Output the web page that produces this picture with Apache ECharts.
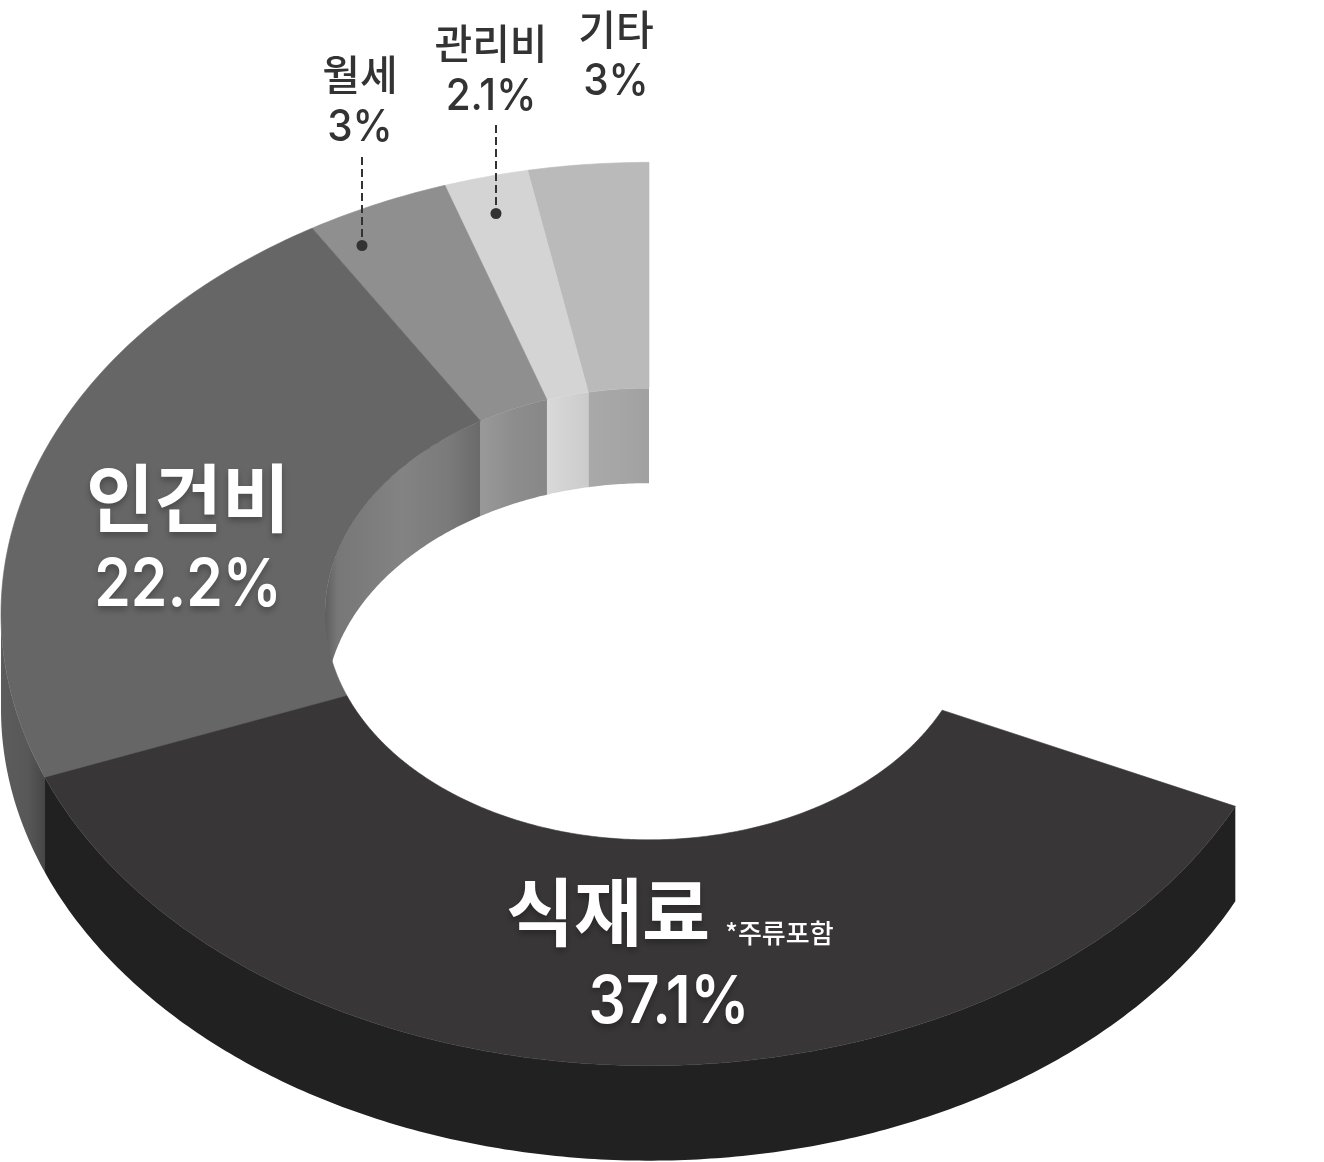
<!DOCTYPE html>
<html lang="ko">
<head>
<meta charset="utf-8">
<title>비용 구성</title>
<style>html,body{margin:0;padding:0;background:#fff}#chart{width:1324px;height:1162px}</style>
<script src="https://cdn.jsdelivr.net/npm/echarts@6/dist/echarts.min.js"></script>
</head>
<body>
<div id="chart"></div>
<script>
// Data, in drawing order: counter-clockwise from twelve o'clock.
var categories = ['기타', '관리비', '월세', '인건비', '식재료'];
var sliceValues = [3, 2.1, 3.6, 22.2, 37.1];
var valueLabels = ['3%', '2.1%', '3%', '22.2%', '37.1%'];
var blankValue = 32;
var footnote = '*주류포함';

// Styles (gradient stops run left to right on screen)
var topColors = ['#bababa', '#d4d4d4', '#8f8f8f', '#666666', '#383637'];
var innerWallStops = [
  [[0, '#a9a9a9'], [0.6, '#a5a5a5'], [1, '#a0a0a0']],
  [[0, '#d9d9d9'], [1, '#cbcbcb']],
  [[0, '#999999'], [0.5, '#8d8d8d'], [1, '#878787']],
  [[0, '#5e5e5e'], [0.08, '#777777'], [0.5, '#838383'], [0.8, '#7a7a7a'], [1, '#6a6a6a']],
  null
];
var outerWallStops = [null, null, null,
  [[0, '#5c5c5c'], [0.6, '#585858'], [1, '#464646']],
  [[0, '#212121'], [1, '#212121']]
];

// Layout of the projected ring
var CX = 649, CY = 614, RO = 648, RI = 324, SQUASH = 0.697, DEPTH = 95;
var total = sliceValues.reduce(function (a, b) { return a + b; }, blankValue);
var edges = [0];
sliceValues.forEach(function (v, i) { edges.push(edges[i] + v); });

function thetaOf(v) { return echarts.number.linearMap(v, [0, total], [0, Math.PI * 2]); }
function pt(theta, r, z) {
  return [CX - r * Math.sin(theta), CY - SQUASH * r * Math.cos(theta) + z];
}
function arc(a, b, r, z) {
  var pts = [], n = Math.max(6, Math.ceil((b - a) / 0.01));
  for (var i = 0; i <= n; i++) pts.push(pt(a + (b - a) * i / n, r, z));
  return pts;
}
function grad(stops) {
  return new echarts.graphic.LinearGradient(0, 0, 1, 0, stops.map(function (s) {
    return { offset: s[0], color: s[1] };
  }));
}
function rows() { return categories.map(function (c, i) { return [i, sliceValues[i]]; }); }

function renderTop(params, api) {
  var i = api.value(0), a = thetaOf(edges[i]), b = thetaOf(edges[i + 1]);
  var pts = arc(a, b, RO, 0).concat(arc(a, b, RI, 0).reverse());
  return { type: 'polygon', shape: { points: pts },
    style: { fill: topColors[i], stroke: topColors[i], lineWidth: 0.6 } };
}
function renderInnerWall(params, api) {
  var i = api.value(0);
  if (!innerWallStops[i]) return null;
  var a = thetaOf(edges[i]), b = Math.min(thetaOf(edges[i + 1]), Math.PI / 2);
  var pts = arc(a, b, RI, 0).concat(arc(a, b, RI, DEPTH).reverse());
  return { type: 'polygon', shape: { points: pts }, style: { fill: grad(innerWallStops[i]) } };
}
function renderOuterWall(params, api) {
  var i = api.value(0);
  if (!outerWallStops[i]) return null;
  var a = Math.max(thetaOf(edges[i]), Math.PI / 2), b = thetaOf(edges[i + 1]);
  var pts = arc(a, b, RO, 0).concat(arc(a, b, RO, DEPTH).reverse());
  return { type: 'polygon', shape: { points: pts }, style: { fill: grad(outerWallStops[i]) } };
}

var FONT = 'Inter, "Noto Sans CJK KR", sans-serif';
var KFONT = '"Noto Sans CJK KR", sans-serif';
function txt(s, x, y, size, weight, color, shadow, family, sx) {
  var st = { text: s, x: 0, y: 0, align: 'center', verticalAlign: 'middle',
    fontFamily: family, fontSize: size, fontWeight: weight, fill: color };
  if (shadow) {
    st.textShadowColor = 'rgba(0,0,0,0.28)'; st.textShadowBlur = 6; st.textShadowOffsetY = 4; st.textShadowOffsetX = 0;
  }
  return { type: 'text', x: x, y: y, scaleX: sx || 1, scaleY: 1, style: st };
}
// Placement of each label: [name x, name y, value x, value y]
var labelPos = [
  [616, 29, 616, 82],
  [491, 43, 491, 97],
  [360, 74, 360, 128],
  [188, 498, 188, 586],
  [608, 912, 669, 1003]
];
var leaders = { 1: [496, 125, 213.5], 2: [362, 157, 245.5] };

function renderLabels(params, api) {
  var i = api.value(0), p = labelPos[i], big = i >= 3, kids = [];
  if (big) {
    kids.push(txt(categories[i], p[0], p[1], 74, 700, '#ffffff', true, KFONT));
    kids.push(txt(valueLabels[i], p[2], p[3], 66, 600, '#ffffff', true, FONT, 0.89));
  } else {
    kids.push(txt(categories[i], p[0], p[1], 41, 500, '#333333', false, KFONT));
    kids.push(txt(valueLabels[i], p[2], p[3], 44, 500, '#333333', false, FONT, 0.92));
  }
  if (i === 4) kids.push(txt(footnote, 779.5, 933, 26, 500, '#ffffff', false, KFONT));
  if (leaders[i]) {
    var l = leaders[i];
    kids.push({ type: 'line', shape: { x1: l[0], y1: l[1], x2: l[0], y2: l[2] },
      style: { stroke: '#333333', lineWidth: 2, lineDash: [8, 4], fill: null } });
    kids.push({ type: 'circle', shape: { cx: l[0], cy: l[2], r: 5.5 }, style: { fill: '#333333' } });
  }
  return { type: 'group', children: kids };
}
function layer(name, fn, z) {
  return { type: 'custom', name: name, coordinateSystem: 'none', renderItem: fn, data: rows(),
    z: z, silent: true, animation: false, clip: false,
    encode: { tooltip: 1 } };
}
var chart = echarts.init(document.getElementById('chart'), null, { renderer: 'canvas', width: 1324, height: 1162 });
chart.setOption({
  backgroundColor: '#ffffff',
  animation: false,
  series: [
    layer('innerWall', renderInnerWall, 1),
    layer('outerWall', renderOuterWall, 2),
    layer('top', renderTop, 3),
    layer('labels', renderLabels, 4)
  ]
});
</script>
</body>
</html>
